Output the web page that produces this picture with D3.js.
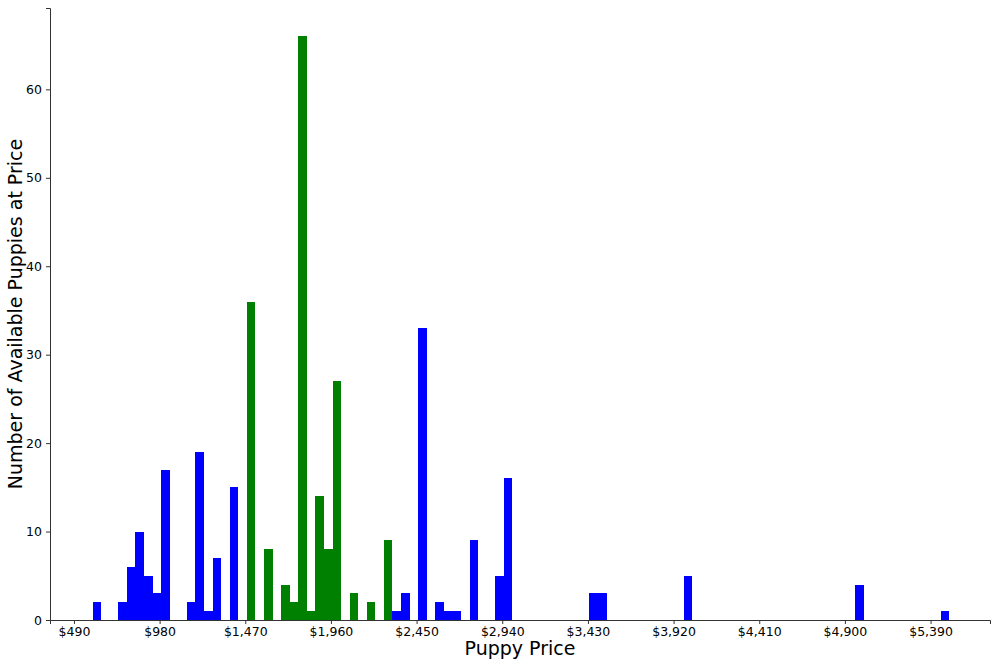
<!DOCTYPE html>
<html><head><meta charset="utf-8">
<script src="https://cdn.jsdelivr.net/npm/d3@7"></script>
<style>body{margin:0;background:#fff}svg{font-family:"DejaVu Sans",sans-serif}</style>
</head><body>
<svg id="chart" width="1000" height="666"></svg>
<script>
// histogram bins: left edge price, bin width 49
var binWidth = 49;
var blueStarts = [597,744,793,842,891,940,989,1136,1185,1234,1283,1381,2312,2361,2459,2557,2606,2655,2753,2900,2949,3439,3488,3978,4958,5448];
var blueCounts = [2,2,6,10,5,3,17,2,19,1,7,15,1,3,33,2,1,1,9,5,16,3,3,5,4,1];
var greenStarts = [1479,1577,1675,1724,1773,1822,1871,1920,1969,2067,2165,2263];
var greenCounts = [36,8,4,2,66,1,14,8,27,3,2,9];
var xTicks = [490,980,1470,1960,2450,2940,3430,3920,4410,4900,5390];
var yTicks = [0,10,20,30,40,50,60];

var svg = d3.select("#chart");
var m = {l:50, r:990, t:8, b:620};
var x = d3.scaleLinear().domain([353, 5730]).range([m.l, m.r]);
var y = d3.scaleLinear().domain([0, 69.2]).range([m.b, m.t]);

function drawBars(starts, counts, color){
	svg.append("g").attr("shape-rendering","crispEdges")
		.selectAll("rect").data(starts).enter().append("rect")
		.attr("x", function(d){return x(d)})
		.attr("width", function(d){return x(d+binWidth)-x(d)})
		.attr("y", function(d,i){return y(counts[i])})
		.attr("height", function(d,i){return y(0)-y(counts[i])})
		.attr("fill", color);
}
drawBars(blueStarts, blueCounts, "#0000ff");
drawBars(greenStarts, greenCounts, "#008000");

var fmt = function(d){return "$" + d3.format(",")(d)};
svg.append("g").attr("transform","translate(0,"+m.b+")")
	.call(d3.axisBottom(x).tickValues(xTicks).tickFormat(fmt).tickSizeOuter(0).tickSize(4).tickPadding(3));
svg.append("g").attr("transform","translate("+m.l+",0)")
	.call(d3.axisLeft(y).tickValues(yTicks).tickSizeOuter(0).tickSize(4).tickPadding(4));
svg.selectAll(".tick text").attr("font-size", 12.5).attr("fill","#000")
	.attr("font-family","DejaVu Sans");
svg.selectAll(".domain, .tick line").attr("stroke","#333");

svg.append("text").attr("x", (m.l+m.r)/2).attr("y", 655)
	.attr("text-anchor","middle").attr("font-size", 19).text("Puppy Price");
svg.append("text").attr("transform","translate(22,"+(m.b+m.t)/2+") rotate(-90)")
	.attr("text-anchor","middle").attr("font-size", 19).text("Number of Available Puppies at Price");
</script>
</body></html>
